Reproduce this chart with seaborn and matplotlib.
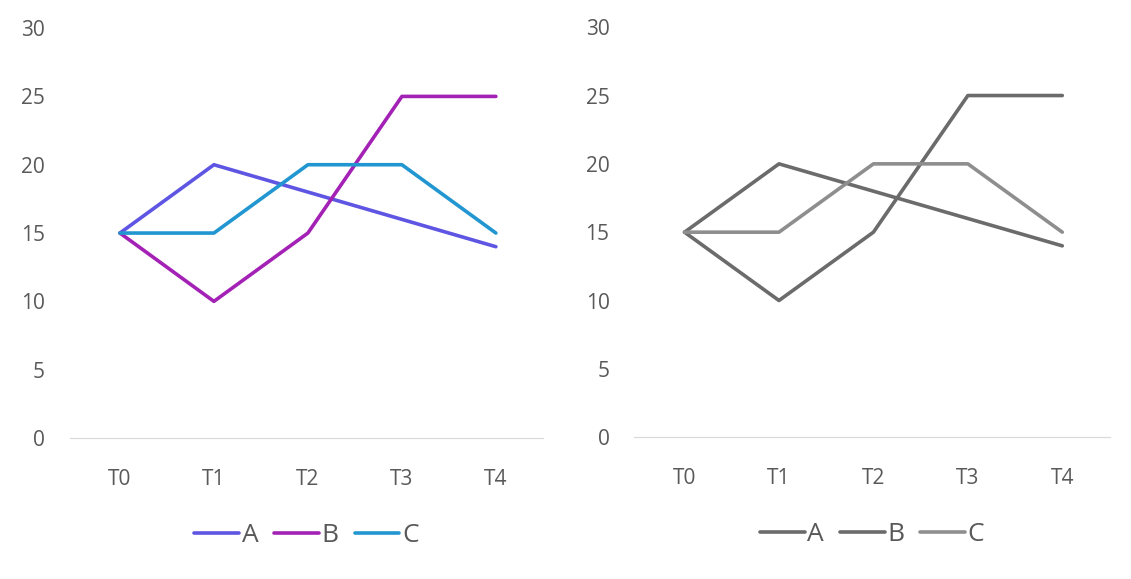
import matplotlib
matplotlib.use("Agg")
import matplotlib.pyplot as plt
import seaborn as sns
import pandas as pd

sns.set_style("white")
plt.rcParams['font.family'] = ['Open Sans', 'DejaVu Sans']

cats = ["T0", "T1", "T2", "T3", "T4"]
A = [15, 20, 18, 16, 14]
B = [15, 10, 15, 25, 25]
C = [15, 15, 20, 20, 15]
names = ["A", "B", "C"]
colors_left = ["#5F55E3", "#A322B5", "#2196D0"]
colors_right = ["#6B6B6B", "#6B6B6B", "#8E8E8E"]

df = pd.DataFrame({"cat": cats * 3, "val": A + B + C,
                   "series": [n for n in names for _ in cats]})

fig = plt.figure(figsize=(11.31, 5.79), dpi=100)
boxes = [[0.062, 0.2435, 0.418, 0.708], [0.561, 0.2450, 0.420, 0.708]]
for box, cols in zip(boxes, [colors_left, colors_right]):
    ax = fig.add_axes(box)
    sns.lineplot(data=df, x="cat", y="val", hue="series", palette=cols,
                 linewidth=2.6, ax=ax, legend=True)
    ax.set_xlim(-0.53, 4.5)
    ax.set_ylim(0, 30)
    ax.set_yticks(range(0, 31, 5))
    ax.set_xlabel(""); ax.set_ylabel("")
    for s in ["top", "right", "left"]:
        ax.spines[s].set_visible(False)
    ax.spines["bottom"].set_color("#D9D9D9")
    ax.tick_params(axis="both", length=0, labelsize=15, colors="#595959")
    ax.tick_params(axis="y", pad=18)
    ax.tick_params(axis="x", pad=22)
    h, l = ax.get_legend_handles_labels()
    ax.legend(h, l, loc="upper center", bbox_to_anchor=(0.5, -0.15), ncol=3,
              frameon=False, fontsize=19, handlelength=1.7, handletextpad=0.1,
              columnspacing=0.6, labelcolor="#595959")
fig.savefig("out.png", dpi=100)
